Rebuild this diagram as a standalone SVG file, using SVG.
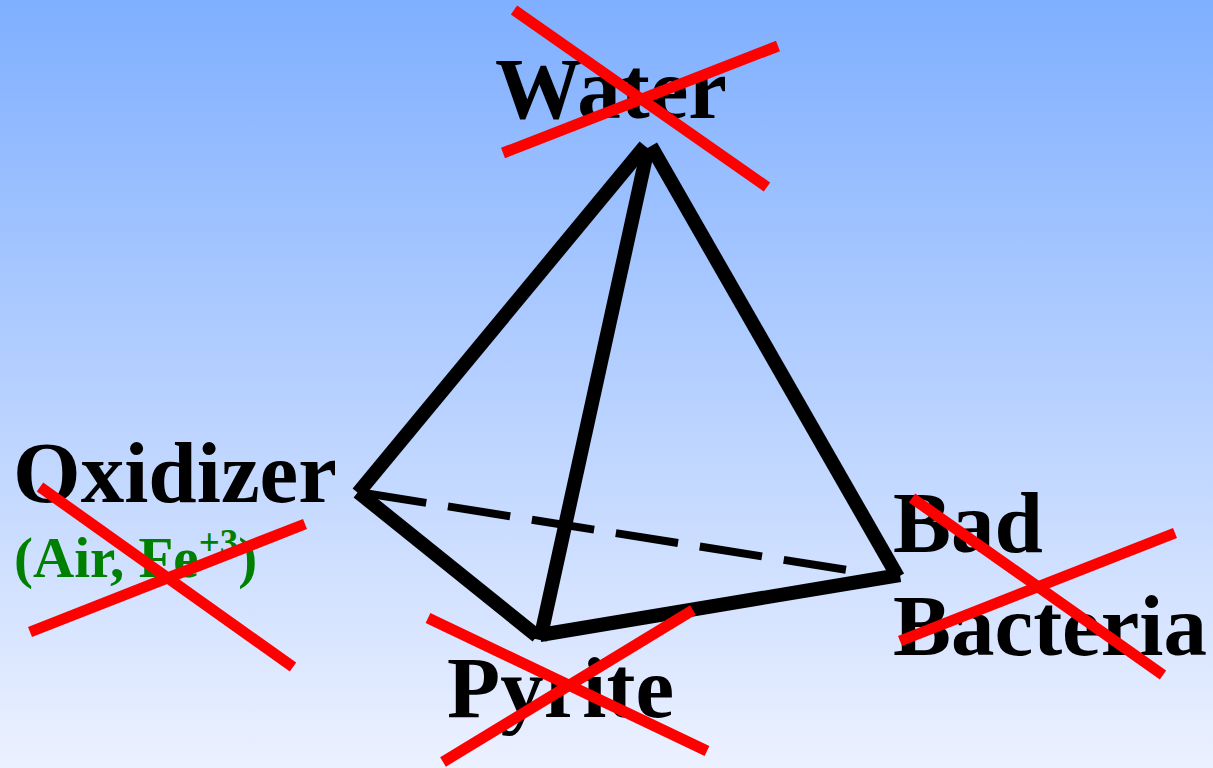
<svg xmlns="http://www.w3.org/2000/svg" width="1213" height="768" viewBox="0 0 1213 768">
<defs>
<linearGradient id="bg" x1="0" y1="0" x2="0" y2="1">
<stop offset="0" stop-color="#7FAFFF"/>
<stop offset="1" stop-color="#ECF1FF"/>
</linearGradient>
<style>
.lbl{font-family:"Liberation Serif","Times New Roman",serif;font-weight:bold;font-size:87px;fill:#000}
.sub{font-family:"Liberation Serif","Times New Roman",serif;font-weight:bold;font-size:57px;fill:#008000}
.edge{stroke:#000;stroke-width:14;fill:none;stroke-linecap:butt}
.hidden{stroke:#000;stroke-width:8;fill:none;stroke-dasharray:63 22}
.cross{stroke:#FF0000;stroke-width:11;fill:none}
</style>
</defs>
<rect width="1213" height="768" fill="url(#bg)"/>
<g id="connectors">
<line class="hidden" x1="364" y1="493" x2="866" y2="573"/>
<line class="edge" x1="645" y1="146" x2="358" y2="493"/>
<line class="edge" x1="651" y1="146" x2="898" y2="577"/>
<line class="edge" x1="648" y1="148" x2="540" y2="640"/>
<line class="edge" x1="358" y1="492" x2="537" y2="636"/>
<line class="edge" x1="540" y1="635" x2="900" y2="575"/>
</g>
<g id="water">
<text class="lbl" x="495" y="118">Water</text>
<line class="cross" x1="514" y1="10" x2="767" y2="187"/>
<line class="cross" x1="503" y1="153" x2="778" y2="46"/>
</g>
<g id="oxidizer">
<text class="lbl" x="13" y="502">Oxidizer</text>
<text class="sub" x="14" y="577">(Air, Fe<tspan font-size="37" dy="-22">+3</tspan><tspan dy="22">)</tspan></text>
<line class="cross" x1="40" y1="487" x2="293" y2="667"/>
<line class="cross" x1="30" y1="632" x2="305" y2="524"/>
</g>
<g id="bacteria">
<text class="lbl" x="893" y="552">Bad</text>
<text class="lbl" x="893" y="655">Bacteria</text>
<line class="cross" x1="912" y1="498" x2="1163" y2="675"/>
<line class="cross" x1="900" y1="641" x2="1175" y2="533"/>
</g>
<g id="pyrite">
<text class="lbl" x="447" y="717">Pyrite</text>
<line class="cross" x1="428" y1="618" x2="707" y2="751"/>
<line class="cross" x1="443" y1="762" x2="693" y2="610"/>
</g>
</svg>
